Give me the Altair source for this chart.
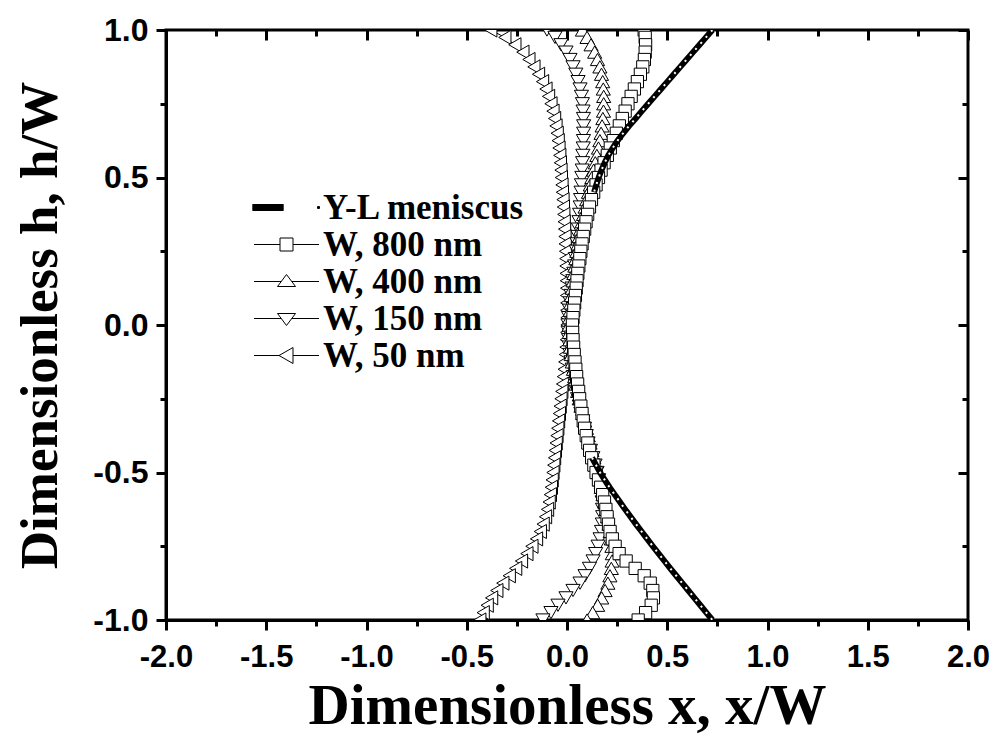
import altair as alt
import pandas as pd

# ---- data ----
H = [1.0, 0.975, 0.95, 0.925, 0.9, 0.875, 0.85, 0.825, 0.8, 0.775,
     0.75, 0.725, 0.7, 0.675, 0.65, 0.625, 0.6, 0.575, 0.55, 0.525,
     0.5, 0.475, 0.45, 0.425, 0.4, 0.375, 0.35, 0.325, 0.3, 0.275,
     0.25, 0.225, 0.2, 0.175, 0.15, 0.125, 0.1, 0.075, 0.05, 0.025,
     0.0,
     -0.025, -0.05, -0.075, -0.1, -0.125, -0.15, -0.175, -0.2, -0.225, -0.25,
     -0.275, -0.3, -0.325, -0.35, -0.375, -0.4, -0.425, -0.45, -0.475, -0.5,
     -0.525, -0.55, -0.575, -0.6, -0.625, -0.65, -0.675, -0.7, -0.725, -0.75,
     -0.775, -0.8, -0.825, -0.85, -0.875, -0.9, -0.925, -0.95, -0.975, -1.0]

X_800 = [0.385, 0.39, 0.392, 0.39, 0.386, 0.378, 0.366, 0.351, 0.336, 0.32,
         0.304, 0.29, 0.276, 0.261, 0.246, 0.231, 0.216, 0.201, 0.185, 0.17,
         0.157, 0.145, 0.133, 0.122, 0.112, 0.103, 0.095, 0.088, 0.081, 0.075,
         0.069, 0.064, 0.059, 0.054, 0.05, 0.046, 0.042, 0.038, 0.034, 0.03,
         0.027,
         0.028, 0.03, 0.033, 0.036, 0.04, 0.044, 0.048, 0.053, 0.058, 0.063,
         0.069, 0.075, 0.081, 0.088, 0.096, 0.104, 0.113, 0.123, 0.134, 0.145,
         0.157, 0.168, 0.178, 0.187, 0.194, 0.2, 0.207, 0.215, 0.226, 0.24,
         0.26, 0.295, 0.34, 0.385, 0.415, 0.428, 0.431, 0.42, 0.392, 0.355]

X_400 = [0.077, 0.1, 0.12, 0.138, 0.152, 0.164, 0.172, 0.178, 0.181, 0.183,
         0.183, 0.182, 0.179, 0.175, 0.17, 0.164, 0.157, 0.149, 0.141, 0.133,
         0.124, 0.116, 0.107, 0.098, 0.09, 0.082, 0.075, 0.068, 0.061, 0.055,
         0.049, 0.044, 0.039, 0.034, 0.03, 0.026, 0.022, 0.019, 0.016, 0.013,
         0.011,
         0.012, 0.014, 0.017, 0.021, 0.026, 0.032, 0.038, 0.045, 0.053, 0.061,
         0.07, 0.079, 0.088, 0.097, 0.106, 0.115, 0.124, 0.134, 0.144, 0.153,
         0.162, 0.171, 0.18, 0.188, 0.196, 0.203, 0.21, 0.216, 0.221, 0.224,
         0.226, 0.225, 0.221, 0.214, 0.204, 0.19, 0.173, 0.153, 0.128, 0.1]

X_150 = [-0.1, -0.06, -0.03, -0.005, 0.015, 0.03, 0.044, 0.055, 0.065, 0.072,
         0.077, 0.08, 0.082, 0.083, 0.083, 0.082, 0.081, 0.079, 0.078, 0.076,
         0.074, 0.072, 0.07, 0.068, 0.066, 0.063, 0.06, 0.057, 0.054, 0.05,
         0.046, 0.042, 0.038, 0.034, 0.029, 0.025, 0.02, 0.016, 0.012, 0.008,
         0.005,
         0.006, 0.008, 0.011, 0.015, 0.02, 0.026, 0.032, 0.039, 0.046, 0.053,
         0.061, 0.069, 0.078, 0.087, 0.096, 0.105, 0.117, 0.129, 0.14, 0.15,
         0.158, 0.165, 0.171, 0.175, 0.177, 0.178, 0.176, 0.172, 0.165, 0.155,
         0.143, 0.13, 0.112, 0.09, 0.065, 0.03, -0.005, -0.045, -0.08, -0.12]

X_50 = [-0.38, -0.31, -0.26, -0.22, -0.19, -0.165, -0.142, -0.122, -0.105, -0.092,
        -0.08, -0.07, -0.062, -0.055, -0.049, -0.044, -0.04, -0.036, -0.033, -0.03,
        -0.028, -0.025, -0.023, -0.02, -0.018, -0.016, -0.014, -0.012, -0.01, -0.009,
        -0.007, -0.006, -0.005, -0.004, -0.003, -0.002, -0.002, -0.001, -0.001, 0.0,
        0.0,
        -0.001, -0.003, -0.005, -0.008, -0.011, -0.014, -0.018, -0.022, -0.026, -0.03,
        -0.034, -0.038, -0.042, -0.046, -0.05, -0.054, -0.058, -0.062, -0.066, -0.07,
        -0.074, -0.078, -0.083, -0.089, -0.097, -0.107, -0.119, -0.133, -0.152, -0.175,
        -0.2, -0.227, -0.256, -0.288, -0.32, -0.35, -0.376, -0.398, -0.418, -0.435]

YL_H_TOP = [1.0, 0.975, 0.95, 0.925, 0.9, 0.875, 0.85, 0.825, 0.8, 0.775, 0.75, 0.725,
            0.7, 0.675, 0.65, 0.625, 0.6, 0.575, 0.55, 0.525, 0.5, 0.475, 0.45]
YL_X_TOP = [0.725, 0.693, 0.661, 0.629, 0.597, 0.565, 0.533, 0.501, 0.469, 0.437, 0.405, 0.373,
            0.342, 0.31, 0.28, 0.252, 0.228, 0.206, 0.188, 0.172, 0.158, 0.146, 0.135]
YL_H_BOT = [-0.45, -0.475, -0.5, -0.525, -0.55, -0.575, -0.6, -0.625, -0.65, -0.675, -0.7, -0.725,
            -0.75, -0.775, -0.8, -0.825, -0.85, -0.875, -0.9, -0.925, -0.95, -0.975, -1.0]
YL_X_BOT = [0.125, 0.145, 0.165, 0.188, 0.212, 0.238, 0.264, 0.29, 0.317, 0.344, 0.372, 0.4,
            0.428, 0.457, 0.486, 0.515, 0.545, 0.575, 0.605, 0.635, 0.665, 0.695, 0.725]

SERIES = ["Y-L meniscus", "W, 800 nm", "W, 400 nm", "W, 150 nm", "W, 50 nm"]

X_TICKS = [-2.0, -1.5, -1.0, -0.5, 0.0, 0.5, 1.0, 1.5, 2.0]
X_MINOR = [-1.75, -1.25, -0.75, -0.25, 0.25, 0.75, 1.25, 1.75]
Y_TICKS = [-1.0, -0.5, 0.0, 0.5, 1.0]
Y_MINOR = [-0.75, -0.25, 0.25, 0.75]

# ---- legend symbols (custom paths: line + marker) ----
_bar = "".join(f"M-6.8,{v:.1f}H-0.6" for v in [-0.6, -0.5, -0.4, -0.3, -0.2, -0.1, 0.0, 0.1, 0.2, 0.3, 0.4, 0.5, 0.6])
_dot = "".join(f"M{6.4 - w:.2f},{v:.1f}H{6.4 + w:.2f}" for v, w in [(-0.2, 0.2), (-0.1, 0.3), (0.0, 0.3), (0.1, 0.3), (0.2, 0.2)])
LEGEND_PATHS = [
    _bar + _dot,
    "M-6.5,0H-1.3M1.3,0H6.5M-1.3,-1.3H1.3V1.3H-1.3Z",
    "M-6.5,0H-1.05M1.05,0H6.5M0,-1.4L1.8,1.0H-1.8Z",
    "M-6.5,0H-1.05M1.05,0H6.5M0,1.4L1.8,-1.0H-1.8Z",
    "M-6.5,0H-1.5M1.3,0H6.5M-1.5,0L1.3,-1.6V1.6Z",
]

XS = alt.Scale(domain=[-2, 2], nice=False, zero=False)
YS = alt.Scale(domain=[-1, 1], nice=False, zero=False)

TICK_FONT = "Liberation Sans"
TITLE_FONT = "Liberation Serif"
LABEL_EXPR = "datum.value < 0 ? '-' + format(-datum.value, '.1f') : format(datum.value, '.1f')"


def xaxis(kind):
    common = dict(grid=False, tickColor="black", tickWidth=3, labelFlush=False,
                  labelOverlap=False)
    if kind == "major":
        return alt.Axis(orient="bottom", values=X_TICKS, labelExpr=LABEL_EXPR, tickSize=10,
                        domain=True, domainColor="black", domainWidth=3,
                        labelFont=TICK_FONT, labelFontSize=31, labelFontWeight="bold",
                        labelColor="black", labelPadding=12,
                        title="Dimensionless x, x/W", titleFont=TITLE_FONT,
                        titleFontSize=57, titleFontWeight="bold", titleColor="black",
                        titleX=401, titleY=103, titleAlign="center",
                        titleBaseline="alphabetic", **common)
    if kind == "minor":
        return alt.Axis(orient="bottom", values=X_MINOR, tickSize=6, labels=False,
                        domain=False, title=None, **common)
    if kind == "top":
        return alt.Axis(orient="top", values=X_TICKS, tickSize=10, offset=-10,
                        labels=False, domain=False, title=None, **common)
    return alt.Axis(orient="top", values=X_MINOR, tickSize=6, offset=-6,
                    labels=False, domain=False, title=None, **common)


def yaxis(kind):
    common = dict(grid=False, tickColor="black", tickWidth=3, labelFlush=False,
                  labelOverlap=False)
    if kind == "major":
        return alt.Axis(orient="left", values=Y_TICKS, labelExpr=LABEL_EXPR, tickSize=10,
                        domain=True, domainColor="black", domainWidth=3,
                        labelFont=TICK_FONT, labelFontSize=32, labelFontWeight="bold",
                        labelColor="black", labelPadding=8,
                        title="Dimensionless h, h/W", titleFont=TITLE_FONT,
                        titleFontSize=53, titleFontWeight="bold", titleColor="black",
                        titleAngle=270, titleX=-110, titleY=295, titleAlign="center",
                        titleBaseline="alphabetic", **common)
    if kind == "minor":
        return alt.Axis(orient="left", values=Y_MINOR, tickSize=6, labels=False,
                        domain=False, title=None, **common)
    if kind == "top":
        return alt.Axis(orient="right", values=Y_TICKS, tickSize=10, offset=-10,
                        labels=False, domain=False, title=None, **common)
    return alt.Axis(orient="right", values=Y_MINOR, tickSize=6, offset=-6,
                    labels=False, domain=False, title=None, **common)


def series_df(name, xs):
    return pd.DataFrame({"series": name, "h": H, "x": xs, "order": list(range(len(H)))})


layers = []
specs = [
    ("W, 50 nm", X_50, "triangle-left", 200, "major"),
    ("W, 150 nm", X_150, "triangle-down", 200, "minor"),
    ("W, 400 nm", X_400, "triangle-up", 200, "top"),
    ("W, 800 nm", X_800, "square", 150, "topminor"),
]
for name, xs, shape, size, ax in specs:
    df = series_df(name, xs)
    line = alt.Chart(df).mark_line(color="black", strokeWidth=1, clip=True).encode(
        x=alt.X("x:Q", scale=XS, axis=None),
        y=alt.Y("h:Q", scale=YS, axis=None),
        order="order:Q",
    )
    pts = alt.Chart(df).mark_point(shape=shape, size=size, filled=True, fill="white",
                                   stroke="black", strokeWidth=1, opacity=1,
                                   clip=True).encode(
        x=alt.X("x:Q", scale=XS, axis=xaxis(ax)),
        y=alt.Y("h:Q", scale=YS, axis=yaxis(ax)),
    )
    layers += [line, pts]

yl_df = pd.concat([
    pd.DataFrame({"seg": "top", "h": YL_H_TOP, "x": YL_X_TOP,
                  "order": list(range(len(YL_H_TOP)))}),
    pd.DataFrame({"seg": "bottom", "h": YL_H_BOT, "x": YL_X_BOT,
                  "order": list(range(len(YL_H_BOT)))}),
])
yl_enc = dict(x=alt.X("x:Q", scale=XS, axis=None), y=alt.Y("h:Q", scale=YS, axis=None),
              detail="seg:N", order="order:Q")
yl_black = alt.Chart(yl_df).mark_line(color="black", strokeWidth=6, clip=True).encode(**yl_enc)
yl_dots = alt.Chart(yl_df).mark_line(color="white", strokeWidth=2, strokeDash=[2, 6],
                                     clip=True).encode(**yl_enc)
layers += [yl_black, yl_dots]

legend_df = pd.DataFrame({"series": SERIES})
legend_layer = alt.Chart(legend_df).mark_point(
    filled=False, color="black", strokeWidth=1, size=100, opacity=1
).encode(
    shape=alt.Shape("series:N", scale=alt.Scale(domain=SERIES, range=LEGEND_PATHS),
                    legend=alt.Legend(orient="none", legendX=103, legendY=160, title=None,
                                      symbolSize=100, symbolStrokeWidth=1,
                                      symbolStrokeColor="black", symbolOpacity=1,
                                      labelFont=TITLE_FONT, labelFontSize=35,
                                      labelFontWeight="bold", labelColor="black",
                                      labelOffset=19, labelLimit=500, rowPadding=1,
                                      padding=0)),
).transform_filter("datum.series == 'none'")
layers.append(legend_layer)

chart = alt.layer(*layers).resolve_axis(x="independent", y="independent").properties(
    width=802, height=590,
    padding={"left": 158, "top": 22, "right": 23, "bottom": 117},
    autosize=alt.AutoSizeParams(type="none"),
    background="white",
).configure_view(stroke="black", strokeWidth=3)

chart.save("out.html", embed_options={"renderer": "svg", "actions": False})
